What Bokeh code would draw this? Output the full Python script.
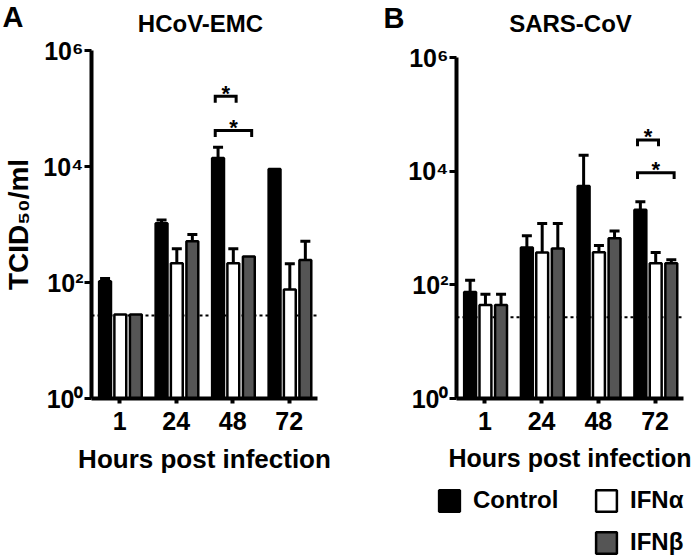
import numpy as np
from bokeh.plotting import figure
from bokeh.layouts import row, column
from bokeh.models import (Range1d, FixedTicker, CustomJSTickFormatter, Whisker, TeeHead,
                          ColumnDataSource, Span, Label, Legend, LegendItem)
from bokeh.core.properties import value
from bokeh.embed import file_html
from bokeh.resources import INLINE

# ---------------- data ----------------
hours = ["1", "24", "48", "72"]
y_exponents = [0, 2, 4, 6]
lod = 27  # detection limit (dashed line)

a_ctrl = [105, 1050, 14000, 9100]
a_ctrl_err = [117, 1200, 21500, None]
a_alpha = [28, 215, 215, 76]
a_alpha_err = [None, 380, 380, 210]
a_beta = [28, 515, 280, 245]
a_beta_err = [None, 675, None, 515]

b_ctrl = [75, 455, 5500, 2100]
b_ctrl_err = [120, 730, 19000, 2900]
b_alpha = [44, 370, 375, 240]
b_alpha_err = [68, 1200, 490, 370]
b_beta = [44, 435, 660, 240]
b_beta_err = [68, 1200, 890, 277]

# significance brackets: (group index, compared series index, log10 level)
a_sig = [(2, 1, 5.21), (2, 2, 4.62)]
b_sig = [(3, 1, 4.55), (3, 2, 3.97)]

series_names = ["Control", "IFNα", "IFNβ"]
series_colors = ["black", "white", "#555555"]
offsets = [-0.26, 0.01, 0.285]
FONT = "Liberation Sans"
SUP = {"0": "⁰", "1": "¹", "2": "²", "3": "³", "4": "⁴", "5": "⁵", "6": "⁶"}


def blank_fig(w, h, **borders):
    f = figure(width=w, height=h, x_range=Range1d(0, 1), y_range=Range1d(0, 1),
               min_border=0, x_axis_location=None, y_axis_location=None,
               output_backend="svg", toolbar_location=None, **borders)
    f.grid.visible = False
    f.outline_line_color = None
    return f


def panel(data, sig, w, h, bl, br, bt, bb, ylabel, xl_size, dlog):
    p = figure(width=w, height=h, x_range=Range1d(-0.5, 3.5), y_range=Range1d(1, 1e6),
               y_axis_type="log", output_backend="svg", toolbar_location=None,
               min_border_left=bl, min_border_right=br, min_border_top=bt, min_border_bottom=bb)
    p.grid.visible = False
    p.outline_line_color = None

    p.yaxis.ticker = FixedTicker(ticks=[10 ** e for e in y_exponents], minor_ticks=[])
    p.yaxis.formatter = CustomJSTickFormatter(
        args=dict(sup=SUP),
        code="const e = Math.round(Math.log10(tick)); return '10' + (sup[String(e)] || '');")
    p.xaxis.ticker = FixedTicker(ticks=list(range(len(hours))), minor_ticks=[])
    p.xaxis.formatter = CustomJSTickFormatter(
        args=dict(labels=hours),
        code="const l = labels[Math.round(tick)]; return l === undefined ? '' : l;")
    for ax in (p.xaxis[0], p.yaxis[0]):
        ax.axis_line_width = 4
        ax.axis_line_color = "black"
        ax.major_tick_line_width = 4
        ax.major_tick_line_color = "black"
        ax.major_tick_in = 0
        ax.minor_tick_line_color = None
        ax.major_label_text_font = FONT
        ax.major_label_text_font_style = "bold"
        ax.major_label_text_color = "black"
        ax.axis_label_text_font = FONT
        ax.axis_label_text_font_style = "bold"
        ax.axis_label_text_color = "black"
    p.yaxis.major_tick_out = 7
    p.yaxis.major_tick_line_width = 3
    p.yaxis.major_label_text_font_size = "25px"
    p.yaxis.major_label_standoff = 1
    p.xaxis.major_tick_out = 5
    p.xaxis.major_label_text_font_size = "25px"
    p.xaxis.major_label_standoff = 8
    p.xaxis.axis_label = "Hours post infection"
    p.xaxis.axis_label_text_font_size = xl_size
    p.xaxis.axis_label_standoff = 11
    if ylabel:
        p.yaxis.axis_label = ylabel
        p.yaxis.axis_label_text_font_size = "28px"
        p.yaxis.axis_label_standoff = 6

    p.add_layout(Span(location=lod, dimension="width", line_color="black", line_width=2,
                      line_dash="3 3", level="underlay"))

    x = np.arange(len(hours))
    for (vals, errs), color, off in zip(data, series_colors, offsets):
        src = ColumnDataSource(dict(x=x + off, top=vals))
        p.vbar(x="x", top="top", bottom=1, width=0.21, fill_color=color,
               line_color="black", line_width=2.5, source=src)
        wb = [xi + off for xi, e in zip(x, errs) if e is not None]
        wl = [v for v, e in zip(vals, errs) if e is not None]
        wu = [e for e in errs if e is not None]
        p.add_layout(Whisker(source=ColumnDataSource(dict(base=wb, lower=wl, upper=wu)),
                             base="base", lower="lower", upper="upper", dimension="height",
                             line_width=3, line_color="black", lower_head=None,
                             upper_head=TeeHead(size=10, line_width=3, line_color="black")))

    # significance brackets
    xs, ys, sx, sy = [], [], [], []
    tip = 0.11
    for g, s, lvl in sig:
        x1 = g + offsets[0] - 0.05
        x2 = g + offsets[s] + 0.05
        xs.append([x1, x1, x2, x2])
        ys.append([10 ** (lvl - tip), 10 ** lvl, 10 ** lvl, 10 ** (lvl - tip)])
        sx.append((x1 + x2) / 2)
        sy.append(10 ** (lvl + 3 * dlog))
    p.multi_line(xs=xs, ys=ys, line_color="black", line_width=3, line_join="miter")
    p.text(x=sx, y=sy, text=["*"] * len(sx), text_font=value(FONT), text_font_style="bold",
           text_font_size="22px", text_align="center", text_baseline="middle",
           text_color="black")
    return p


# header strip with panel letters and titles (pixel coordinates, y measured upward)
HEAD_H = 36
head = figure(width=700, height=HEAD_H, x_range=Range1d(0, 700), y_range=Range1d(0, HEAD_H),
              min_border=0, x_axis_location=None, y_axis_location=None,
              output_backend="svg", toolbar_location=None)
head.grid.visible = False
head.outline_line_color = None
for txt, xx, yy, sz, al in [("A", 2, HEAD_H - 16.5, "29px", "left"),
                            ("HCoV-EMC", 200, HEAD_H - 22.5, "24px", "center"),
                            ("B", 383, HEAD_H - 17.5, "29px", "left"),
                            ("SARS-CoV", 570, HEAD_H - 22.5, "24px", "center")]:
    head.add_layout(Label(x=xx, y=yy, text=txt, text_font=FONT, text_font_size=sz,
                          text_font_style="bold", text_color="black", text_align=al,
                          text_baseline="middle"))

pa = panel([(a_ctrl, a_ctrl_err), (a_alpha, a_alpha_err), (a_beta, a_beta_err)], a_sig,
           350, 560 - HEAD_H, 86, 33, 14, 162, "TCID₅₀/ml", "26px", 1 / 58)
PB_H = 448
pb = panel([(b_ctrl, b_ctrl_err), (b_alpha, b_alpha_err), (b_beta, b_beta_err)], b_sig,
           350, PB_H, 106, 17, 21, 86, None, "25px", 1 / 57)

# legend strip: two blank figures, legends anchored at their frames' top-left corners
LF_H = 560 - HEAD_H - PB_H
lf1 = blank_fig(243, LF_H, min_border_left=86, min_border_top=2)
lf2 = blank_fig(107, LF_H, min_border_top=2)


def style_legend(lg):
    lg.location = "top_left"
    lg.border_line_color = None
    lg.background_fill_alpha = 0
    lg.padding = 0
    lg.margin = 0
    lg.glyph_width = 26
    lg.glyph_height = 27
    lg.label_height = 27
    lg.label_standoff = 11
    lg.label_text_font = FONT
    lg.label_text_font_size = "24px"
    lg.label_text_font_style = "bold"
    lg.label_text_color = "black"


# legend-only renderers: a single non-finite bar, so nothing is drawn in the strip itself
def key_bar(f, color):
    return f.vbar(x=[0.5], bottom=[float("nan")], top=[float("nan")], width=0.2,
                  fill_color=color, line_color="black", line_width=2.5)


d1 = key_bar(lf1, series_colors[0])
d2 = [key_bar(lf2, c) for c in series_colors[1:]]
leg1 = Legend(items=[LegendItem(label=series_names[0], renderers=[d1])])
leg2 = Legend(items=[LegendItem(label=series_names[1], renderers=[d2[0]]),
                     LegendItem(label=series_names[2], renderers=[d2[1]])], spacing=14)
style_legend(leg1)
style_legend(leg2)
lf1.add_layout(leg1)
lf2.add_layout(leg2)

layout = column(head, row(pa, column(pb, row(lf1, lf2))))
open("out.html", "w").write(file_html(layout, INLINE))
